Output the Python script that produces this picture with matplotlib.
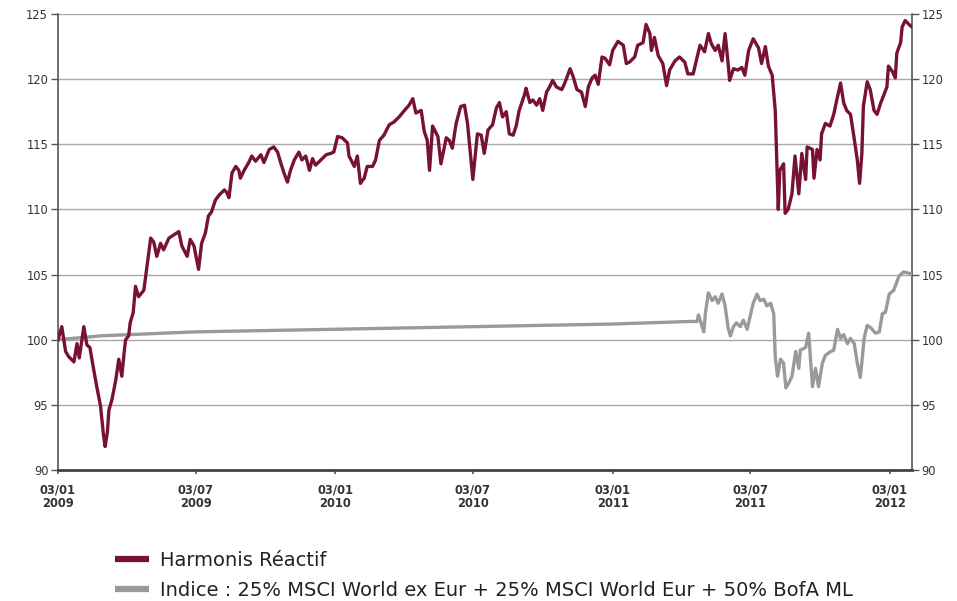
import matplotlib
matplotlib.use("Agg")
import matplotlib.pyplot as plt
from matplotlib.lines import Line2D
import pandas as pd

# ---------------- data ----------------
harmonis_dates = [
    "2009-01-03", "2009-01-07", "2009-01-08", "2009-01-13", "2009-01-17", "2009-01-24", "2009-01-28",
    "2009-01-31", "2009-02-06", "2009-02-10", "2009-02-14", "2009-02-19", "2009-02-23", "2009-02-28",
    "2009-03-04", "2009-03-06", "2009-03-09", "2009-03-11", "2009-03-15", "2009-03-20", "2009-03-24",
    "2009-03-28", "2009-03-31", "2009-04-02", "2009-04-06", "2009-04-08", "2009-04-12", "2009-04-15",
    "2009-04-19", "2009-04-26", "2009-04-30", "2009-05-05", "2009-05-09", "2009-05-13", "2009-05-18",
    "2009-05-22", "2009-05-29", "2009-06-11", "2009-06-15", "2009-06-22", "2009-06-26", "2009-07-01",
    "2009-07-07", "2009-07-11", "2009-07-16", "2009-07-20", "2009-07-24", "2009-07-29", "2009-08-03",
    "2009-08-10", "2009-08-13", "2009-08-16", "2009-08-20", "2009-08-25", "2009-08-29", "2009-08-31",
    "2009-09-05", "2009-09-11", "2009-09-15", "2009-09-20", "2009-09-27", "2009-10-01", "2009-10-08",
    "2009-10-14", "2009-10-19", "2009-10-23", "2009-10-28", "2009-11-01", "2009-11-05", "2009-11-10",
    "2009-11-16", "2009-11-20", "2009-11-25", "2009-11-30", "2009-12-04", "2009-12-08", "2009-12-15",
    "2009-12-22", "2009-12-28", "2010-01-01", "2010-01-06", "2010-01-12", "2010-01-19", "2010-01-21",
    "2010-01-28", "2010-02-01", "2010-02-05", "2010-02-10", "2010-02-14", "2010-02-21", "2010-02-25",
    "2010-03-02", "2010-03-08", "2010-03-15", "2010-03-21", "2010-03-28", "2010-04-04", "2010-04-10",
    "2010-04-15", "2010-04-19", "2010-04-26", "2010-04-30", "2010-05-04", "2010-05-07", "2010-05-11",
    "2010-05-18", "2010-05-22", "2010-05-29", "2010-06-02", "2010-06-06", "2010-06-11", "2010-06-17",
    "2010-06-22", "2010-06-26", "2010-07-03", "2010-07-09", "2010-07-14", "2010-07-18", "2010-07-23",
    "2010-07-29", "2010-08-03", "2010-08-07", "2010-08-11", "2010-08-16", "2010-08-20", "2010-08-25",
    "2010-08-29", "2010-09-02", "2010-09-09", "2010-09-11", "2010-09-16", "2010-09-20", "2010-09-25",
    "2010-09-29", "2010-10-03", "2010-10-08", "2010-10-12", "2010-10-16", "2010-10-21", "2010-10-28",
    "2010-11-01", "2010-11-08", "2010-11-12", "2010-11-17", "2010-11-23", "2010-11-28", "2010-12-02",
    "2010-12-07", "2010-12-11", "2010-12-15", "2010-12-20", "2010-12-24", "2010-12-30", "2011-01-03",
    "2011-01-10", "2011-01-17", "2011-01-21", "2011-01-25", "2011-02-01", "2011-02-05", "2011-02-12",
    "2011-02-16", "2011-02-21", "2011-02-23", "2011-02-27", "2011-03-04", "2011-03-10", "2011-03-15",
    "2011-03-19", "2011-03-26", "2011-04-01", "2011-04-08", "2011-04-12", "2011-04-19", "2011-04-23",
    "2011-04-28", "2011-05-04", "2011-05-09", "2011-05-13", "2011-05-18", "2011-05-22", "2011-05-27",
    "2011-05-31", "2011-06-04", "2011-06-06", "2011-06-11", "2011-06-17", "2011-06-22", "2011-06-26",
    "2011-07-01", "2011-07-07", "2011-07-14", "2011-07-18", "2011-07-23", "2011-07-27", "2011-08-01",
    "2011-08-05", "2011-08-07", "2011-08-09", "2011-08-11", "2011-08-16", "2011-08-18", "2011-08-22",
    "2011-08-27", "2011-08-31", "2011-09-05", "2011-09-09", "2011-09-14", "2011-09-16", "2011-09-23",
    "2011-09-25", "2011-09-29", "2011-10-03", "2011-10-05", "2011-10-10", "2011-10-16", "2011-10-21",
    "2011-10-25", "2011-10-30", "2011-11-03", "2011-11-07", "2011-11-12", "2011-11-16", "2011-11-21",
    "2011-11-24", "2011-11-27", "2011-11-29", "2011-12-04", "2011-12-08", "2011-12-13", "2011-12-17",
    "2011-12-22", "2011-12-26", "2011-12-30", "2012-01-01", "2012-01-06", "2012-01-10", "2012-01-12",
    "2012-01-17", "2012-01-19", "2012-01-23", "2012-01-28", "2012-02-01",
]
harmonis_values = [
    100.0, 100.8, 101.0, 99.1, 98.7, 98.3, 99.7,
    98.6, 101.0, 99.6, 99.4, 97.7, 96.4, 94.9,
    92.6, 91.8, 92.9, 94.6, 95.4, 96.9, 98.5,
    97.2, 99.0, 100.0, 100.3, 101.3, 102.1, 104.1,
    103.3, 103.8, 105.6, 107.8, 107.5, 106.4, 107.4,
    106.9, 107.8, 108.3, 107.2, 106.4, 107.7, 107.2,
    105.4, 107.4, 108.2, 109.5, 109.8, 110.7, 111.1,
    111.5, 111.3, 110.9, 112.8, 113.3, 113.0, 112.4,
    113.0, 113.6, 114.1, 113.7, 114.2, 113.6, 114.6,
    114.8, 114.4, 113.6, 112.7, 112.1, 113.0, 113.8,
    114.4, 113.8, 114.1, 113.0, 113.9, 113.4, 113.8,
    114.2, 114.3, 114.4, 115.6, 115.5, 115.1, 114.1,
    113.3, 114.1, 112.0, 112.4, 113.3, 113.3, 113.8,
    115.3, 115.7, 116.5, 116.7, 117.1, 117.6, 118.0,
    118.5, 117.4, 117.6, 116.0, 115.3, 113.0, 116.4,
    115.6, 113.5, 115.5, 115.3, 114.7, 116.6, 117.9,
    118.0, 116.6, 112.3, 115.8, 115.7, 114.3, 116.1,
    116.5, 117.8, 118.2, 117.1, 117.5, 115.8, 115.7,
    116.4, 117.6, 118.8, 119.3, 118.2, 118.4, 118.0,
    118.5, 117.6, 119.0, 119.4, 119.9, 119.4, 119.2,
    119.7, 120.8, 120.2, 119.2, 119.0, 117.9, 119.4,
    120.1, 120.3, 119.6, 121.7, 121.6, 121.1, 122.2,
    122.9, 122.6, 121.2, 121.3, 121.7, 122.6, 122.8,
    124.2, 123.5, 122.2, 123.2, 121.8, 121.2, 119.5,
    120.7, 121.4, 121.7, 121.3, 120.4, 120.4, 121.4,
    122.6, 122.1, 123.5, 122.7, 122.2, 122.6, 121.4,
    123.5, 121.2, 119.9, 120.8, 120.7, 120.9, 120.3,
    122.2, 123.1, 122.4, 121.2, 122.5, 121.0, 120.3,
    117.6, 113.8, 110.0, 113.0, 113.5, 109.7, 110.0,
    111.2, 114.1, 111.2, 114.3, 112.3, 114.8, 114.6,
    112.4, 114.6, 113.8, 115.8, 116.6, 116.4, 117.3,
    118.4, 119.7, 118.2, 117.6, 117.3, 115.8, 113.8,
    112.0, 114.3, 117.9, 119.8, 119.2, 117.6, 117.3,
    118.2, 118.8, 119.4, 121.0, 120.6, 120.1, 122.0,
    122.8, 124.0, 124.5, 124.2, 124.0,
]

index_dates = [
    "2009-01-03", "2009-03-01", "2009-07-01", "2010-01-01", "2010-07-01", "2011-01-01",
    "2011-04-14", "2011-04-24", "2011-04-26", "2011-05-03", "2011-05-05", "2011-05-09",
    "2011-05-14", "2011-05-18", "2011-05-22", "2011-05-27", "2011-05-31", "2011-06-04",
    "2011-06-07", "2011-06-11", "2011-06-15", "2011-06-20", "2011-06-24", "2011-06-29",
    "2011-07-03", "2011-07-07", "2011-07-12", "2011-07-16", "2011-07-21", "2011-07-25",
    "2011-07-30", "2011-08-03", "2011-08-05", "2011-08-08", "2011-08-12", "2011-08-16",
    "2011-08-19", "2011-08-23", "2011-08-27", "2011-09-01", "2011-09-05", "2011-09-07",
    "2011-09-14", "2011-09-18", "2011-09-23", "2011-09-27", "2011-10-01", "2011-10-06",
    "2011-10-10", "2011-10-17", "2011-10-21", "2011-10-26", "2011-10-30", "2011-11-03",
    "2011-11-08", "2011-11-12", "2011-11-17", "2011-11-21", "2011-11-25", "2011-11-30",
    "2011-12-04", "2011-12-09", "2011-12-15", "2011-12-20", "2011-12-24", "2011-12-28",
    "2012-01-02", "2012-01-08", "2012-01-15", "2012-01-21", "2012-01-28", "2012-02-01",
]
index_values = [
    100.0, 100.3, 100.6, 100.8, 101.0, 101.2,
    101.4, 101.4, 101.9, 100.6, 102.0, 103.6,
    103.0, 103.3, 102.8, 103.5, 102.6, 100.9,
    100.3, 101.0, 101.3, 101.0, 101.5, 100.8,
    101.8, 102.8, 103.5, 103.0, 103.1, 102.6,
    102.8, 102.0, 98.7, 97.2, 98.5, 98.2,
    96.3, 96.7, 97.2, 99.1, 97.8, 99.2,
    99.4, 100.5, 96.4, 97.8, 96.4, 98.2,
    98.8, 99.1, 99.2, 100.8, 100.1, 100.4,
    99.7, 100.1, 99.7, 98.2, 97.1, 100.1,
    101.1, 100.9, 100.5, 100.6, 102.0, 102.1,
    103.5, 103.8, 104.9, 105.2, 105.1, 105.0,
]

tick_dates = ["2009-01-03", "2009-07-03", "2010-01-03", "2010-07-03",
              "2011-01-03", "2011-07-03", "2012-01-03"]
tick_labels = ["03/01\n2009", "03/07\n2009", "03/01\n2010", "03/07\n2010",
               "03/01\n2011", "03/07\n2011", "03/01\n2012"]
y_ticks = [90, 95, 100, 105, 110, 115, 120, 125]

series_names = ["Harmonis Réactif",
                "Indice : 25% MSCI World ex Eur + 25% MSCI World Eur + 50% BofA ML"]

# ---------------- style ----------------
HARM_COLOR = "#771235"
IDX_COLOR = "#9a9a9a"

fig = plt.figure(figsize=(9.57, 6.01), dpi=100)
ax = fig.add_axes([58 / 957, 1 - 470 / 601, (912 - 58) / 957, (470 - 14) / 601])

ax.plot(pd.to_datetime(index_dates), index_values, color=IDX_COLOR, lw=2.4,
        solid_joinstyle="round", zorder=3)
ax.plot(pd.to_datetime(harmonis_dates), harmonis_values, color=HARM_COLOR, lw=2.4,
        solid_joinstyle="round", zorder=4)

ax.set_xlim(pd.Timestamp("2009-01-03"), pd.Timestamp("2012-02-01"))
ax.set_ylim(90, 125)
ax.set_yticks(y_ticks)
ax.set_xticks(pd.to_datetime(tick_dates))
ax.set_xticklabels(tick_labels, fontsize=8.3, fontweight="bold", color="#333333",
                   linespacing=1.0)

ax.yaxis.grid(True, color="#a8a8a8", lw=1.0)
ax.set_axisbelow(True)
ax.tick_params(axis="y", which="both", left=True, right=True, labelleft=True,
               labelright=True, length=5, width=1, color="#555555",
               labelsize=8.3, labelcolor="#333333", pad=2)
ax.tick_params(axis="x", length=3, width=1.2, color="#555555", pad=7)

ax.spines["top"].set_visible(False)
for s in ["left", "right"]:
    ax.spines[s].set_color("#555555")
    ax.spines[s].set_linewidth(1.2)
ax.spines["bottom"].set_color("#444444")
ax.spines["bottom"].set_linewidth(2.0)

handles = [Line2D([0], [0], color=HARM_COLOR, lw=4.5, solid_capstyle="butt"),
           Line2D([0], [0], color=IDX_COLOR, lw=4.5, solid_capstyle="butt")]
fig.legend(handles, series_names, loc="upper left",
           bbox_to_anchor=(115 / 957, 1 - 551 / 601), frameon=False, fontsize=14,
           handlelength=1.75, handletextpad=0.55, labelspacing=0.58,
           borderpad=0, borderaxespad=0, labelcolor="#222222")

fig.savefig("out.png", dpi=100)
